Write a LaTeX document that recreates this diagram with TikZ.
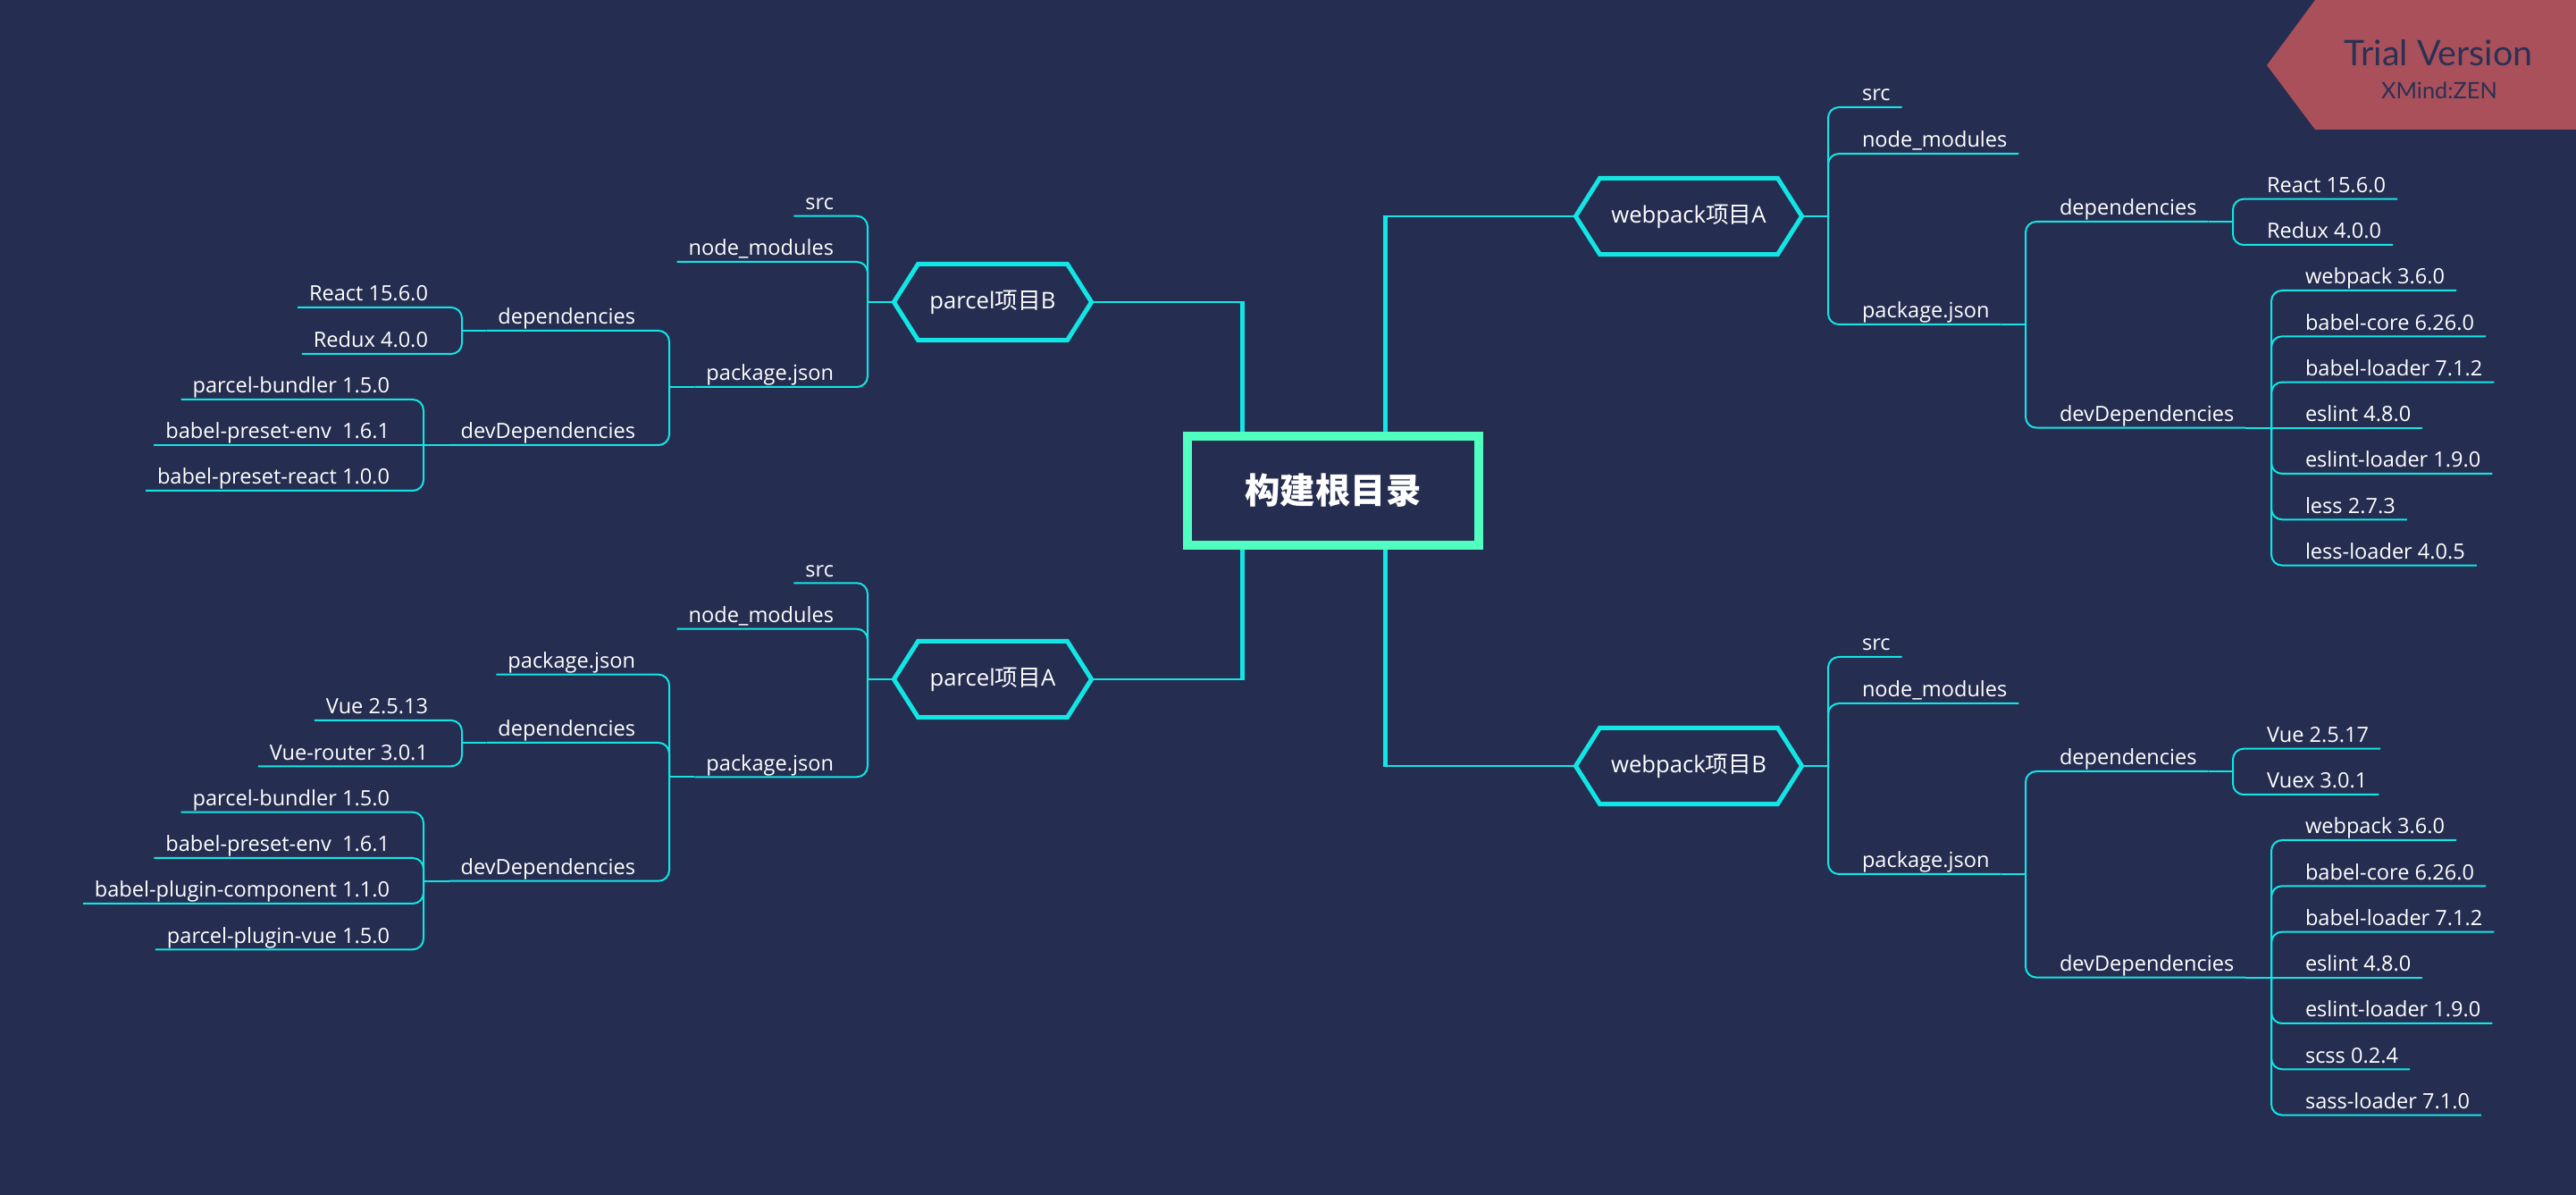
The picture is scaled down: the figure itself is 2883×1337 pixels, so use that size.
\documentclass[tikz,border=0pt]{standalone}
\usepackage{fontspec}
\setmainfont{Open Sans}
\newfontfamily\cjk{Noto Sans CJK SC}
\newfontfamily\badgefont{Lato}

\definecolor{bgnavy}{HTML}{252D50}
\definecolor{linecyan}{HTML}{12E6E4}
\definecolor{rootgreen}{HTML}{50FFC0}
\definecolor{badgered}{HTML}{A9505A}
\definecolor{badgetext}{HTML}{2A3155}

% Sechseck um einen Knoten
\newcommand{\hexframe}[1]{%
  \draw[hexline] (#1.west) -- ([xshift=0.27cm]#1.north west) -- ([xshift=-0.27cm]#1.north east)
    -- (#1.east) -- ([xshift=-0.27cm]#1.south east) -- ([xshift=0.27cm]#1.south west) -- cycle;}

\begin{document}
\begin{tikzpicture}[
    x=0.01cm, y=-0.01cm,
    font=\fontsize{6.7pt}{8pt}\selectfont,
    % Stile für Konsistenz
    root/.style={draw=rootgreen, line width=0.1cm, fill=bgnavy, minimum width=3.26cm, minimum height=1.22cm, outer sep=0.05cm, text=white, font=\cjk\bfseries\fontsize{11.2pt}{13pt}\selectfont},
    hexbox/.style={minimum width=2.21cm, minimum height=0.85cm, inner sep=0pt, outer sep=0pt, text=white, font=\fontsize{7.3pt}{9pt}\selectfont},
    hexline/.style={draw=linecyan, line width=0.05cm, line join=miter},
    trunk/.style={draw=linecyan, line width=0.05cm},
    branch/.style={draw=linecyan, line width=0.025cm},
    link/.style={draw=linecyan, line width=0.02cm, rounded corners=0.12cm},
    leaf/.style={text=white, inner xsep=0.13cm, inner ysep=0pt, outer sep=0pt, text height=0.18cm, text depth=0.07cm},
    lleaf/.style={leaf, anchor=south east},
    rleaf/.style={leaf, anchor=south west},
    badge_text/.style={text=badgetext, anchor=base, inner sep=0pt}
]

    % Hintergrund
    \useasboundingbox (0,0) rectangle (2883,1337);
    \fill[bgnavy] (0,0) rectangle (2883,1337);

    % ==========================================
    % WURZEL
    % ==========================================
    \node[root] (root) at (1492,549) {构建根目录};

    \node[hexbox] (pB) at (1111,338) {parcel{\cjk 项目}B};
    \hexframe{pB}
    \node[hexbox] (pA) at (1111,760) {parcel{\cjk 项目}A};
    \hexframe{pA}
    \node[hexbox, minimum width=2.53cm] (wA) at (1890,242) {webpack{\cjk 项目}A};
    \hexframe{wA}
    \node[hexbox, minimum width=2.53cm] (wB) at (1890,857) {webpack{\cjk 项目}B};
    \hexframe{wB}

    % Stämme zur Wurzel
    \coordinate (kL) at (1390,549);
    \coordinate (kR) at (1550,549);
    \draw[trunk] (root.north -| kL) -- ([yshift=0.0125cm]kL |- pB.east);
    \draw[branch] (kL |- pB.east) -- (pB.east);
    \draw[trunk] (root.south -| kL) -- ([yshift=-0.0125cm]kL |- pA.east);
    \draw[branch] (kL |- pA.east) -- (pA.east);
    \draw[trunk] (root.north -| kR) -- ([yshift=0.0125cm]kR |- wA.west);
    \draw[branch] (kR |- wA.west) -- (wA.west);
    \draw[trunk] (root.south -| kR) -- ([yshift=-0.0125cm]kR |- wB.west);
    \draw[branch] (kR |- wB.west) -- (wB.west);

    % ==========================================
    % WEBPACK PROJEKT A
    % ==========================================
    \coordinate (wAf) at (2046,242);
    \draw[link] (wA.east) -- (wAf);
    \node[rleaf] (wAsrc) at (2071,120) {src};
    \node[rleaf] (wAnm) at (2071,172) {node\_modules};
    \node[rleaf] (wApj) at (2071,363) {package.json};
    \draw[link] (wAf) |- (wAsrc.south west) -- (wAsrc.south east);
    \draw[link] (wAf) |- (wAnm.south west) -- (wAnm.south east);
    \draw[link] (wAf) |- (wApj.south west) -- (wApj.south east);

    \coordinate (wApjf) at (2267,363);
    \draw[link] (wApj.south east) -- (wApjf);
    \node[rleaf] (wAdep) at (2292,248) {dependencies};
    \node[rleaf] (wAdev) at (2292,478.6) {devDependencies};
    \draw[link] (wApjf) |- (wAdep.south west) -- (wAdep.south east);
    \draw[link] (wApjf) |- (wAdev.south west) -- (wAdev.south east);

    \coordinate (wAdepf) at (2499,248);
    \draw[link] (wAdep.south east) -- (wAdepf);
    \node[rleaf] (wAreact) at (2524,222.7) {React 15.6.0};
    \node[rleaf] (wAredux) at (2524,274) {Redux 4.0.0};
    \draw[link] (wAdepf) |- (wAreact.south west) -- (wAreact.south east);
    \draw[link] (wAdepf) |- (wAredux.south west) -- (wAredux.south east);

    \coordinate (wAdevf) at (2542,478.6);
    \draw[link] (wAdev.south east) -- (wAdevf);
    \node[rleaf] (wAwp) at (2567,325) {webpack 3.6.0};
    \node[rleaf] (wAbc) at (2567,376.3) {babel-core 6.26.0};
    \node[rleaf] (wAbl) at (2567,427.6) {babel-loader 7.1.2};
    \node[rleaf] (wAes) at (2567,478.6) {eslint 4.8.0};
    \node[rleaf] (wAel) at (2567,530) {eslint-loader 1.9.0};
    \node[rleaf] (wAless) at (2567,581.3) {less 2.7.3};
    \node[rleaf] (wAll) at (2567,632.6) {less-loader 4.0.5};
    \draw[link] (wAdevf) |- (wAwp.south west) -- (wAwp.south east);
    \draw[link] (wAdevf) |- (wAbc.south west) -- (wAbc.south east);
    \draw[link] (wAdevf) |- (wAbl.south west) -- (wAbl.south east);
    \draw[link] (wAdevf) -- (wAes.south east);
    \draw[link] (wAdevf) |- (wAel.south west) -- (wAel.south east);
    \draw[link] (wAdevf) |- (wAless.south west) -- (wAless.south east);
    \draw[link] (wAdevf) |- (wAll.south west) -- (wAll.south east);

    % ==========================================
    % WEBPACK PROJEKT B
    % ==========================================
    \coordinate (wBf) at (2046,857);
    \draw[link] (wB.east) -- (wBf);
    \node[rleaf] (wBsrc) at (2071,735) {src};
    \node[rleaf] (wBnm) at (2071,787) {node\_modules};
    \node[rleaf] (wBpj) at (2071,978) {package.json};
    \draw[link] (wBf) |- (wBsrc.south west) -- (wBsrc.south east);
    \draw[link] (wBf) |- (wBnm.south west) -- (wBnm.south east);
    \draw[link] (wBf) |- (wBpj.south west) -- (wBpj.south east);

    \coordinate (wBpjf) at (2267,978);
    \draw[link] (wBpj.south east) -- (wBpjf);
    \node[rleaf] (wBdep) at (2292,863) {dependencies};
    \node[rleaf] (wBdev) at (2292,1093.6) {devDependencies};
    \draw[link] (wBpjf) |- (wBdep.south west) -- (wBdep.south east);
    \draw[link] (wBpjf) |- (wBdev.south west) -- (wBdev.south east);

    \coordinate (wBdepf) at (2499,863);
    \draw[link] (wBdep.south east) -- (wBdepf);
    \node[rleaf] (wBvue) at (2524,837.7) {Vue 2.5.17};
    \node[rleaf] (wBvuex) at (2524,889) {Vuex 3.0.1};
    \draw[link] (wBdepf) |- (wBvue.south west) -- (wBvue.south east);
    \draw[link] (wBdepf) |- (wBvuex.south west) -- (wBvuex.south east);

    \coordinate (wBdevf) at (2542,1093.6);
    \draw[link] (wBdev.south east) -- (wBdevf);
    \node[rleaf] (wBwp) at (2567,940) {webpack 3.6.0};
    \node[rleaf] (wBbc) at (2567,991.3) {babel-core 6.26.0};
    \node[rleaf] (wBbl) at (2567,1042.6) {babel-loader 7.1.2};
    \node[rleaf] (wBes) at (2567,1093.6) {eslint 4.8.0};
    \node[rleaf] (wBel) at (2567,1145) {eslint-loader 1.9.0};
    \node[rleaf] (wBscss) at (2567,1196.3) {scss 0.2.4};
    \node[rleaf] (wBsl) at (2567,1247.6) {sass-loader 7.1.0};
    \draw[link] (wBdevf) |- (wBwp.south west) -- (wBwp.south east);
    \draw[link] (wBdevf) |- (wBbc.south west) -- (wBbc.south east);
    \draw[link] (wBdevf) |- (wBbl.south west) -- (wBbl.south east);
    \draw[link] (wBdevf) -- (wBes.south east);
    \draw[link] (wBdevf) |- (wBel.south west) -- (wBel.south east);
    \draw[link] (wBdevf) |- (wBscss.south west) -- (wBscss.south east);
    \draw[link] (wBdevf) |- (wBsl.south west) -- (wBsl.south east);

    % ==========================================
    % PARCEL PROJEKT B
    % ==========================================
    \coordinate (pBf) at (971,338);
    \draw[link] (pB.west) -- (pBf);
    \node[lleaf] (pBsrc) at (946,241.7) {src};
    \node[lleaf] (pBnm) at (946,293) {node\_modules};
    \node[lleaf] (pBpj) at (946,433) {package.json};
    \draw[link] (pBf) |- (pBsrc.south east) -- (pBsrc.south west);
    \draw[link] (pBf) |- (pBnm.south east) -- (pBnm.south west);
    \draw[link] (pBf) |- (pBpj.south east) -- (pBpj.south west);

    \coordinate (pBpjf) at (749,433);
    \draw[link] (pBpj.south west) -- (pBpjf);
    \node[lleaf] (pBdep) at (724,370) {dependencies};
    \node[lleaf] (pBdev) at (724,498) {devDependencies};
    \draw[link] (pBpjf) |- (pBdep.south east) -- (pBdep.south west);
    \draw[link] (pBpjf) |- (pBdev.south east) -- (pBdev.south west);

    \coordinate (pBdepf) at (517,370);
    \draw[link] (pBdep.south west) -- (pBdepf);
    \node[lleaf] (pBreact) at (492,344) {React 15.6.0};
    \node[lleaf] (pBredux) at (492,396) {Redux 4.0.0};
    \draw[link] (pBdepf) |- (pBreact.south east) -- (pBreact.south west);
    \draw[link] (pBdepf) |- (pBredux.south east) -- (pBredux.south west);

    \coordinate (pBdevf) at (474,498);
    \draw[link] (pBdev.south west) -- (pBdevf);
    \node[lleaf] (pBpb) at (449,447) {parcel-bundler 1.5.0};
    \node[lleaf] (pBenv) at (449,498) {babel-preset-env\ \ 1.6.1};
    \node[lleaf] (pBreactp) at (449,549) {babel-preset-react 1.0.0};
    \draw[link] (pBdevf) |- (pBpb.south east) -- (pBpb.south west);
    \draw[link] (pBdevf) -- (pBenv.south west);
    \draw[link] (pBdevf) |- (pBreactp.south east) -- (pBreactp.south west);

    % ==========================================
    % PARCEL PROJEKT A
    % ==========================================
    \coordinate (pAf) at (971,760);
    \draw[link] (pA.west) -- (pAf);
    \node[lleaf] (pAsrc) at (946,652.3) {src};
    \node[lleaf] (pAnm) at (946,703.7) {node\_modules};
    \node[lleaf] (pApj) at (946,869.3) {package.json};
    \draw[link] (pAf) |- (pAsrc.south east) -- (pAsrc.south west);
    \draw[link] (pAf) |- (pAnm.south east) -- (pAnm.south west);
    \draw[link] (pAf) |- (pApj.south east) -- (pApj.south west);

    \coordinate (pApjf) at (749,869.3);
    \draw[link] (pApj.south west) -- (pApjf);
    \node[lleaf] (pApj2) at (724,754.7) {package.json};
    \node[lleaf] (pAdep) at (724,831) {dependencies};
    \node[lleaf] (pAdev) at (724,985.7) {devDependencies};
    \draw[link] (pApjf) |- (pApj2.south east) -- (pApj2.south west);
    \draw[link] (pApjf) |- (pAdep.south east) -- (pAdep.south west);
    \draw[link] (pApjf) |- (pAdev.south east) -- (pAdev.south west);

    \coordinate (pAdepf) at (517,831);
    \draw[link] (pAdep.south west) -- (pAdepf);
    \node[lleaf] (pAvue) at (492,806) {Vue 2.5.13};
    \node[lleaf] (pArouter) at (492,857.3) {Vue-router 3.0.1};
    \draw[link] (pAdepf) |- (pAvue.south east) -- (pAvue.south west);
    \draw[link] (pAdepf) |- (pArouter.south east) -- (pArouter.south west);

    \coordinate (pAdevf) at (474,985.7);
    \draw[link] (pAdev.south west) -- (pAdevf);
    \node[lleaf] (pApb) at (449,908.7) {parcel-bundler 1.5.0};
    \node[lleaf] (pAenv) at (449,960) {babel-preset-env\ \ 1.6.1};
    \node[lleaf] (pAcomp) at (449,1011) {babel-plugin-component 1.1.0};
    \node[lleaf] (pApv) at (449,1062.3) {parcel-plugin-vue 1.5.0};
    \draw[link] (pAdevf) |- (pApb.south east) -- (pApb.south west);
    \draw[link] (pAdevf) |- (pAenv.south east) -- (pAenv.south west);
    \draw[link] (pAdevf) |- (pAcomp.south east) -- (pAcomp.south west);
    \draw[link] (pAdevf) |- (pApv.south east) -- (pApv.south west);

    % ==========================================
    % TESTVERSION
    % ==========================================
    \fill[badgered] (2591,0) -- (2883,0) -- (2883,145) -- (2591,145) -- (2537,73) -- cycle;
    \node[badge_text, font=\badgefont\fontsize{11.2pt}{13pt}\selectfont] (trial) at (2729,74) {Trial Version};
    \node[badge_text, font=\badgefont\fontsize{7.2pt}{9pt}\selectfont] (xmind) at (2730,111) {XMind:ZEN};

\end{tikzpicture}
\end{document}
